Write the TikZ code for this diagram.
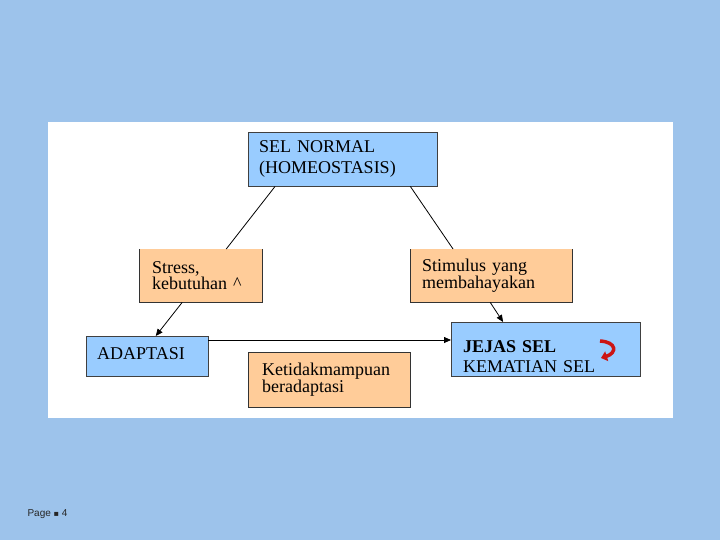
\documentclass[tikz,border=0pt]{standalone}
\usepackage{fontspec}
\setmainfont{Liberation Serif}
\setsansfont{Liberation Sans}
\newfontfamily\symfont{DejaVu Sans}
\usetikzlibrary{calc, arrows.meta}
\definecolor{slidebg}{RGB}{157,195,235}
\definecolor{boxblue}{RGB}{153,204,255}
\definecolor{boxorange}{RGB}{255,204,153}
\definecolor{hookred}{RGB}{204,20,20}

\begin{document}
\begin{tikzpicture}[x=1pt, y=-1pt]
  \tikzset{
    bluebox/.style={
      draw=black!75,
      fill=boxblue,
      anchor=north west,
      align=left,
      inner xsep=11pt,
      inner ysep=0pt,
      font=\fontsize{18}{20.5}\selectfont
    },
    orangebox/.style={
      fill=boxorange,
      anchor=north west,
      align=left,
      inner xsep=13pt,
      inner ysep=0pt,
      font=\fontsize{18}{16.5}\selectfont
    },
    link/.style={
      black,
      line width=0.8pt
    },
    linkarrow/.style={
      link,
      -{Triangle[length=7pt,width=6pt]}
    }
  }

  % slide background and white panel
  \fill[slidebg] (0,0) rectangle (720,540);
  \fill[white] (48,122) rectangle (673,418);
  \useasboundingbox (0,0) rectangle (720,540);

  % Draw the boxes
  \node[bluebox, text width=167pt, minimum height=54pt] at (248,132) (normal) {
      SEL NORMAL\\(HOMEOSTASIS)
  };

  \node[orangebox, text width=97pt, minimum height=53pt] at (139,249) (stress) {
      Stress,\\kebutuhan \^{}
  };
  \draw[black!80] (stress.north west) -- (stress.south west) -- (stress.south east) -- (stress.north east);

  \node[orangebox, inner xsep=12pt, text width=138pt, minimum height=53pt] at (410,249) (stimulus) {
      Stimulus yang\\membahayakan
  };
  \draw[black!80] (stimulus.north west) -- (stimulus.south west) -- (stimulus.south east) -- (stimulus.north east);

  \node[bluebox, text width=100pt, minimum height=40pt, text depth=6pt] at (86,336) (adaptasi) {
      ADAPTASI
  };

  \node[bluebox, inner xsep=12pt, text width=165pt, minimum height=54pt, text depth=6pt] at (451,322) (jejas) {
      \textbf{JEJAS SEL}\\KEMATIAN SEL
  };

  \node[orangebox, draw=black!80, inner xsep=14pt, text width=134pt, minimum height=55pt] at (248,352) (gagal) {
      Ketidakmampuan\\beradaptasi
  };

  % Connectors
  \draw[link] ($(normal.south west)!0.143!(normal.south east)$)
    -- ($(stress.north west)!0.707!(stress.north east)$);
  \draw[link] ($(normal.south west)!0.857!(normal.south east)$)
    -- ($(stimulus.north west)!0.265!(stimulus.north east)$);
  \draw[linkarrow] ($(stress.south west)!0.35!(stress.south east)$)
    -- ($(adaptasi.north west)!0.57!(adaptasi.north east)$);
  \draw[linkarrow] ($(stimulus.south west)!0.494!(stimulus.south east)$)
    -- ($(jejas.north west)!0.275!(jejas.north east)$);
  \draw[linkarrow] ($(adaptasi.north east)+(0,4)$) -- ($(jejas.north west)+(0,18)$);

  % Red hook arrow
  \coordinate (hookA) at (600,341);
  \coordinate (hookB) at (601,358);
  \draw[hookred, line width=3.5pt, -{Triangle[length=6pt,width=10pt]}]
    (hookA) .. controls (617,342) and (617,353) .. (hookB);

  % Page number
  \node[anchor=west, font=\sffamily\fontsize{10}{12}\selectfont, text=black!85] at (24,514) (page) {Page {\symfont\footnotesize ▪} 4};
\end{tikzpicture}
\end{document}
